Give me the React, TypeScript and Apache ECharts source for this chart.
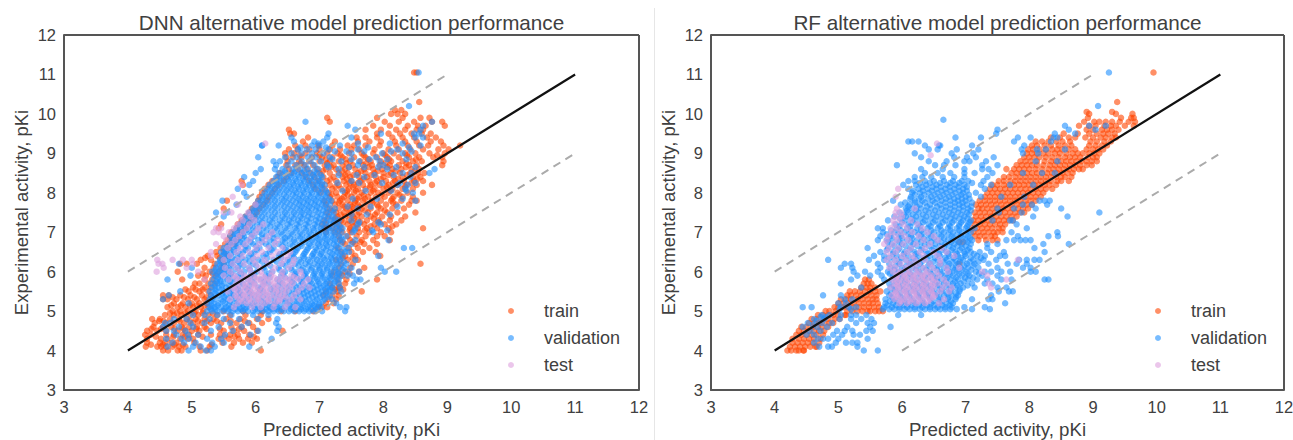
import React, { useEffect, useRef } from "react";
import * as echarts from "echarts";

// Each row: [experimental pKi, predicted pKi, predicted pKi, ...]
const DNN_TRAIN_ROWS: number[][] = [
  [4.0,4.55,4.63,4.78,4.84,5.14,5.24,6.08],
  [4.1,4.28,4.46,4.52,4.6,4.7,4.8,4.9,5.12,5.28,5.62],
  [4.2,4.3,4.5,4.58,4.68,4.76,5.04,5.48,5.66,5.8,5.94],
  [4.3,4.3,4.52,4.62,4.82,4.94,5.02,5.42,5.58,5.74,5.88,6.02],
  [4.4,4.27,4.36,4.6,4.72,4.86,4.96,5.1,5.3,5.44,5.6,5.72,5.9],
  [4.5,4.3,4.46,4.6,4.78,4.9,5,5.12,5.5,5.66,5.82,6.02,6.42],
  [4.6,4.4,4.55,4.68,4.84,4.96,5.08,5.2,5.62,5.78,5.96],
  [4.7,4.42,4.6,4.72,4.88,5.02,5.16,5.3,5.46,5.7,5.9,6.1],
  [4.8,4.38,4.5,4.66,4.8,4.92,5.06,5.2,5.34,5.54,5.76,6.02,6.2],
  [4.9,4.58,4.72,4.84,4.98,5.1,5.26,5.4,5.6,5.84,6.08],
  [5.0,4.7,4.82,4.94,5.06,5.18,5.5,5.8,6.1,6.4,6.62,6.9],
  [5.1,4.62,4.78,4.9,5.02,5.14,5.26,6.98,7.04,7.12],
  [5.2,4.72,4.86,5,5.12,5.24,7.1,7.22],
  [5.3,4.55,4.62,4.76,4.94,5.08,5.2,7.14,7.26],
  [5.4,4.55,4.64,4.82,4.98,5.16,5.3,7.06,7.2,7.3],
  [5.5,4.95,5.12,5.26,7.1,7.28,7.66],
  [5.6,5.02,5.2,5.3,7.2,7.32,7.3],
  [5.7,5.05,5.12,5.26,5.36,7.16,7.3,7.4],
  [5.8,4.85,5.2,5.32,7.28,7.42,7.9],
  [5.9,5.1,5.22,5.38,7.2,7.36],
  [6.0,4.78,5.28,5.42,7.22,7.4,7.62],
  [6.1,5.2,5.34,5.46,7.3,7.48,7.7],
  [6.2,4.82,4.92,5.08,5.36,5.5,7.34,7.52,8.58],
  [6.3,5.14,5.3,5.48,7.26,7.44,7.6],
  [6.4,5.25,5.4,5.56,7.4,7.56,7.95],
  [6.5,5.38,5.5,7.34,7.5,7.68,7.88],
  [6.6,5.45,5.58,7.28,7.46,7.6,7.78],
  [6.7,5.52,5.66,7.4,7.56,7.7,7.9],
  [6.8,5.56,5.7,7.32,7.48,7.66,7.84,8.1],
  [6.9,5.6,5.76,7.3,7.44,7.58,7.72,7.9,8.02],
  [7.0,5.62,5.78,7.1,7.24,7.36,7.5,7.62,7.78,7.96,8.12],
  [7.1,5.42,5.7,5.84,7.08,7.1,7.2,7.34,7.48,7.6,7.74,7.9,8.08,8.62],
  [7.2,5.46,5.72,5.88,7.04,7.1,7.3,7.44,7.58,7.7,7.86,8.02,8.2],
  [7.3,5.78,5.92,7.08,7.22,7.34,7.46,7.6,7.74,7.92,8.1,8.28],
  [7.4,5.84,5.98,7.14,7.28,7.4,7.52,7.66,7.8,7.98,8.12,8.34],
  [7.5,5.9,6.02,7.12,7.26,7.38,7.5,7.62,7.76,7.9,8.06,8.22,8.5],
  [7.6,5.5,5.94,6.06,7.16,7.3,7.42,7.54,7.66,7.8,7.96,8.14,8.32],
  [7.7,6.0,6.12,7.1,7.24,7.36,7.48,7.6,7.74,7.9,8.04,8.2,8.4],
  [7.8,5.55,6.04,6.18,7.08,7.2,7.32,7.44,7.56,7.68,7.82,7.96,8.12,8.28,8.44,8.52],
  [7.9,6.06,6.2,7.16,7.28,7.38,7.5,7.62,7.76,7.88,8.02,8.16,8.3,8.46],
  [8.0,6.1,6.26,7.02,7.14,7.26,7.4,7.54,7.66,7.8,7.92,8.08,8.22,8.38,8.62],
  [8.1,6.14,6.3,6.94,7.08,7.2,7.34,7.46,7.6,7.72,7.86,8,8.14,8.3,8.46],
  [8.2,5.8,6.2,6.36,6.9,7.04,7.16,7.3,7.42,7.54,7.68,7.8,7.94,8.08,8.22,8.36,8.52,8.76],
  [8.3,5.78,6.26,6.44,6.84,6.98,7.12,7.26,7.38,7.5,7.64,7.78,7.9,8.04,8.18,8.32,8.48,8.62],
  [8.4,6.34,6.48,6.78,6.92,7.06,7.22,7.36,7.48,7.62,7.74,7.88,8,8.16,8.3,8.46,8.58],
  [8.5,6.38,6.56,6.72,6.86,7,7.16,7.3,7.44,7.6,7.72,7.86,8,8.12,8.26,8.42,8.54,8.64],
  [8.6,6.52,6.66,6.8,6.96,7.1,7.26,7.4,7.56,7.7,7.84,7.98,8.14,8.28,8.44,8.56],
  [8.7,6.48,6.62,6.76,6.9,7.08,7.22,7.36,7.52,7.68,7.82,7.94,8.1,8.24,8.4,8.52,8.92],
  [8.8,6.5,6.68,6.84,7,7.16,7.3,7.48,7.64,7.8,7.96,8.12,8.3,8.46,8.6,8.94],
  [8.9,6.48,6.58,6.72,6.88,7.04,7.2,7.36,7.54,7.72,7.9,8.06,8.24,8.4,8.56,8.78,8.92],
  [9.0,6.46,6.6,6.78,6.96,7.12,7.28,7.46,7.66,7.84,8,8.16,8.34,8.5,8.72,8.96],
  [9.1,6.52,6.66,6.84,7,7.16,7.32,7.5,7.62,7.86,8.08,8.24,8.42,8.62,8.86,9.02],
  [9.2,6.62,6.78,6.98,7.2,7.44,7.54,7.72,7.94,8.2,8.38,8.56,8.7,8.94,9.2],
  [9.3,6.74,7.24,7.6,7.78,7.96,8.18,8.34,8.52,8.74,8.9],
  [9.4,6.82,7.58,7.72,7.9,8.14,8.3,8.48,8.68,8.82],
  [9.5,6.54,6.6,7.9,8.08,8.26,8.44,8.6,8.74],
  [9.6,6.52,7.72,7.96,8.2,8.34,8.52,8.62],
  [9.7,7.84,8.1,8.38,8.54,8.66,8.96],
  [9.8,7.16,8.02,8.24,8.48,8.76,8.92],
  [9.9,7.12,7.9,8.3,8.58,8.72],
  [10.0,8.12,8.22,8.34],
  [10.1,8.18,8.28],
  [10.3,8.56],
  [11.05,8.48,8.52],
  // second, staggered pass over the dense parts
  [4.15,4.36,4.55,4.73,4.86,5.31],
  [4.35,4.44,4.71,4.89,5.17,5.51,5.67,5.97],
  [4.55,4.37,4.52,4.73,4.87,5.07,5.23,5.44,5.74],
  [4.75,4.49,4.56,4.81,4.97,5.1,5.24,5.39,5.61,5.83],
  [4.95,4.66,4.77,4.9,5.04,5.17,5.33],
  [5.15,4.68,4.83,4.97,5.08,5.2],
  [5.35,4.7,4.88,5.04,5.23],
  [5.55,4.9,5.06,5.17,7.24,7.37],
  [5.95,5.17,5.33,7.31,7.47],
  [6.35,5.21,5.44,7.36,7.52],
  [6.75,5.6,7.36,7.52,7.64],
  [7.05,7.31,7.47,7.71],
  [7.15,7.27,7.53,7.8,8.14],
  [7.25,7.37,7.51,7.64,7.94],
  [7.35,7.25,7.54,7.85],
  [7.45,7.33,7.46,7.59,7.87],
  [7.55,7.21,7.47,7.71,8.02],
  [7.65,7.39,7.51,7.63,7.92],
  [7.75,7.3,7.55,7.83,8.15],
  [7.85,7.35,7.59,7.71,8.14],
  [7.95,7.19,7.44,7.69,7.97,8.25],
  [8.05,7.43,7.57,7.84,8.11],
  [8.15,7.25,7.52,7.79,8.05,8.34],
  [8.25,7.47,7.6,7.87,8.15,8.44],
  [8.35,7.17,7.43,7.69,7.96,8.23,8.53],
  [8.45,7.4,7.53,7.81,8.08,8.37],
  [8.55,7.05,7.35,7.65,7.91,8.19,8.49],
  [8.65,7.18,7.46,7.77,8.06,8.35],
  [8.75,6.71,7.12,7.42,7.73,8.03,8.36],
  [8.85,7.1,7.41,7.76,8.09,8.51],
  [8.95,6.69,7,7.33,7.69,8.03,8.37,8.84],
];

const DNN_VALIDATION_ROWS: number[][] = [
  [4.0,4.95,5.22,5.3],
  [4.1,4.62,5.02,5.14,5.36,5.9],
  [4.2,4.7,4.88,5.06,5.32,5.5],
  [4.3,4.6,4.84,4.96,5.24,5.46,6.25],
  [4.4,4.76,4.94,5.1,5.52,5.92],
  [4.5,4.6,4.72,4.9,5.3,5.64,6.04,6.34],
  [4.6,4.55,4.8,5.02,5.42,5.78,6.36],
  [4.7,4.58,4.66,4.98,5.2,5.6,5.88,6.32],
  [4.8,4.72,4.92,5.28,5.5,5.74,6.04,6.34],
  [4.9,5.02,5.2,5.4,5.62,5.96,6.2],
  [5.0,5.24,5.32,5.4,5.48,5.56,5.64,5.72,5.8,5.88,5.96,6.04,6.12,6.2,6.28,6.36,6.44,6.52,6.6,6.68,6.76,6.84,6.92,7.04,7.4],
  [5.1,5.28,5.36,5.46,5.54,5.62,5.74,5.86,5.98,6.1,6.22,6.34,6.46,6.58,6.7,6.82,6.94,7.02,7.32,7.42],
  [5.2,4.95,5.24,5.34,5.42,5.52,5.66,5.78,5.94,6.14,6.3,6.5,6.64,6.76,6.88,7.0,7.26],
  [5.3,4.55,5.28,5.36,5.46,5.56,5.7,5.86,6.04,6.24,6.42,6.58,6.72,6.84,6.96,7.08,7.2],
  [5.4,4.64,5.3,5.42,5.54,5.66,5.8,5.98,6.18,6.38,6.56,6.7,6.82,6.94,7.06,7.16],
  [5.5,4.82,5.28,5.38,5.5,5.62,5.76,5.92,6.12,6.34,6.52,6.68,6.8,6.92,7.04,7.14,7.22,7.34],
  [5.6,5.32,5.42,5.54,5.68,5.84,6.04,6.28,6.48,6.64,6.78,6.9,7.02,7.12,7.2,7.32],
  [5.7,5.3,5.4,5.5,5.64,5.8,5.98,6.2,6.42,6.6,6.74,6.88,7,7.1,7.22,7.3,7.54],
  [5.8,4.62,5.34,5.44,5.56,5.7,5.88,6.08,6.34,6.54,6.7,6.84,6.96,7.08,7.18,7.3,7.58,7.64],
  [5.9,4.98,5.36,5.46,5.58,5.72,5.92,6.16,6.4,6.6,6.76,6.9,7.02,7.14,7.24,7.34,7.44,7.52],
  [6.0,5.32,5.42,5.52,5.64,5.82,6.02,6.26,6.46,6.64,6.8,6.94,7.06,7.18,7.3,7.44,7.62,8.02,8.2],
  [6.1,5,5.38,5.48,5.58,5.72,5.9,6.12,6.36,6.56,6.74,6.88,7,7.12,7.24,7.38,7.5,7.96],
  [6.2,4.8,5.4,5.5,5.62,5.76,5.96,6.18,6.42,6.62,6.78,6.92,7.04,7.16,7.28,7.42],
  [6.3,5.44,5.56,5.68,5.84,6.04,6.28,6.5,6.68,6.82,6.96,7.08,7.2,7.32,7.56],
  [6.4,5.48,5.58,5.72,5.9,6.12,6.36,6.56,6.74,6.88,7,7.12,7.24,7.36,7.92],
  [6.5,5.46,5.54,5.66,5.8,5.98,6.22,6.44,6.62,6.78,6.92,7.04,7.16,7.28,7.4,7.46],
  [6.6,5.5,5.6,5.72,5.88,6.06,6.28,6.48,6.66,6.82,6.94,7.06,7.18,7.3,7.44,8.32,8.45],
  [6.7,5.58,5.68,5.8,5.96,6.16,6.36,6.54,6.7,6.84,6.98,7.1,7.22,7.34,7.5],
  [6.8,5.62,5.72,5.86,6.04,6.22,6.42,6.6,6.74,6.88,7,7.12,7.24,7.36,7.56,8.08],
  [6.9,5.6,5.7,5.82,5.98,6.16,6.34,6.5,6.66,6.8,6.94,7.06,7.18,7.3,7.42],
  [7.0,5.64,5.76,5.9,6.06,6.24,6.4,6.56,6.7,6.84,6.98,7.1,7.22,7.34,7.52,7.84],
  [7.1,5.7,5.82,5.96,6.12,6.3,6.46,6.62,6.76,6.9,7.02,7.14,7.26,7.36,7.56],
  [7.2,5.76,5.88,6.02,6.18,6.34,6.5,6.64,6.78,6.92,7.04,7.16,7.28,7.6,7.96],
  [7.3,5.8,5.92,6.06,6.22,6.38,6.52,6.66,6.8,6.94,7.06,7.18,7.3,7.5],
  [7.4,5.5,5.84,5.96,6.1,6.26,6.42,6.56,6.7,6.82,6.96,7.08,7.2],
  [7.5,5.38,5.56,5.9,6,6.14,6.3,6.46,6.6,6.72,6.84,6.98,7.1,7.22],
  [7.6,5.96,6.06,6.2,6.34,6.5,6.64,6.76,6.88,7,7.12,7.24,7.6],
  [7.7,5.7,6,6.12,6.26,6.4,6.54,6.68,6.8,6.92,7.04,7.16],
  [7.8,5.48,6.04,6.16,6.3,6.44,6.58,6.7,6.82,6.94,7.06,7.18,8.5],
  [7.9,5.86,6.1,6.22,6.34,6.48,6.62,6.74,6.86,6.98,7.1],
  [8.0,5.82,6.14,6.26,6.38,6.52,6.64,6.76,6.88,7,7.12,8.46],
  [8.1,5.72,6.18,6.3,6.44,6.56,6.68,6.8,6.92,7.04,8.34],
  [8.2,5.9,6.22,6.34,6.48,6.6,6.72,6.84,6.96,7.08,8.22,8.38],
  [8.3,5.96,6.28,6.4,6.52,6.64,6.76,6.88,7,7.5],
  [8.4,5.82,6.32,6.44,6.56,6.68,6.8,6.92,7.04,7.7,8.42],
  [8.5,6,6.36,6.48,6.6,6.72,6.84,6.96,8.3,8.44,8.72],
  [8.6,6.08,6.3,6.42,6.58,6.7,6.82,6.98,7.3,8.06,8.8],
  [8.7,6.32,6.5,6.64,6.78,6.92,7.12,7.6,8],
  [8.8,6.28,6.38,6.56,6.72,6.86,7.02,7.34,7.62,7.94],
  [8.9,6.04,6.46,6.64,6.82,6.94,7.16,7.88],
  [9.0,6.56,6.72,6.88,7.06,7.5,7.98,8.3],
  [9.1,6.66,6.8,6.94,7.14,7.6,8.22],
  [9.2,6.1,6.1,6.36,6.88,7,7.32,8.58],
  [9.3,6.6,6.92,7.06],
  [9.4,6.56,7.12,7.5,8.5,8.62],
  [9.5,7.14,7.96,8.48,8.56],
  [9.6,7.56,8.58],
  [9.7,7.44,8.62],
  [9.8,6.78,8.76],
  [10.2,8.4],
  [11.05,8.55],
  // second, staggered pass over the dense core
  [5.05,5.3,5.37,5.51,5.59,5.68,5.77,5.83,5.99,6.07,6.16,6.25,6.33,6.41,6.55,6.63,6.71,6.79,6.87,6.95],
  [5.15,5.31,5.41,5.58,5.7,5.81,5.9,6.03,6.18,6.27,6.39,6.53,6.61,6.73,6.85,6.91,6.99],
  [5.25,5.3,5.49,5.6,5.73,5.83,5.99,6.09,6.19,6.35,6.46,6.54,6.67,6.79,6.93,7.05],
  [5.35,5.33,5.51,5.63,5.75,5.92,6.11,6.31,6.48,6.63,6.77,6.89,7.01,7.12],
  [5.45,5.36,5.48,5.6,5.73,5.89,6.05,6.27,6.46,6.62,6.75,6.87,6.99,7.1],
  [5.55,5.37,5.47,5.59,5.72,5.87,6.07,6.23,6.41,6.59,6.73,6.85,6.97,7.09,7.17],
  [5.65,5.36,5.47,5.59,5.74,5.9,6.11,6.35,6.53,6.69,6.83,6.95,7.06,7.16],
  [5.75,5.39,5.45,5.6,5.76,5.93,6.14,6.38,6.57,6.72,6.86,6.98,7.12,7.24],
  [5.85,5.41,5.52,5.64,5.79,5.98,6.22,6.46,6.65,6.79,6.93,7.05,7.16,7.27],
  [5.95,5.4,5.5,5.61,5.77,5.97,6.21,6.43,6.62,6.78,6.92,7.04,7.18,7.29],
  [6.05,5.37,5.47,5.57,5.73,5.91,6.14,6.37,6.56,6.72,6.87,7,7.12,7.25,7.36],
  [6.15,5.44,5.53,5.65,5.81,6.01,6.23,6.47,6.67,6.83,6.97,7.08,7.2,7.33],
  [6.25,5.45,5.6,5.73,5.9,6.1,6.33,6.53,6.71,6.85,7,7.14,7.26,7.38],
  [6.35,5.52,5.63,5.78,5.96,6.18,6.4,6.6,6.76,6.91,7.06,7.18,7.3],
  [6.45,5.51,5.61,5.75,5.93,6.16,6.38,6.59,6.76,6.9,7.02,7.2,7.32],
  [6.55,5.53,5.66,5.84,6.02,6.25,6.47,6.64,6.8,6.96,7.1,7.24,7.37],
  [6.65,5.56,5.69,5.84,6.01,6.21,6.42,6.58,6.72,6.86,7,7.12,7.26],
  [6.75,5.63,5.76,5.92,6.1,6.29,6.46,6.62,6.78,6.92,7.04,7.16,7.28],
  [6.85,5.67,5.79,5.93,6.1,6.28,6.46,6.54,6.7,6.84,6.97,7.09,7.21,7.34],
  [6.95,5.68,5.8,5.94,6.1,6.26,6.42,6.58,6.73,6.87,6.99,7.11,7.25],
  [7.05,5.72,5.85,6,6.17,6.33,6.48,6.64,6.79,6.91,7.04,7.17,7.29,7.55,7.82,8.06],
  [7.15,5.78,5.91,6.07,6.23,6.38,6.54,6.68,6.82,6.96,7.08,7.2,7.32],
  [7.25,5.82,5.96,6.1,6.26,6.42,6.56,6.7,6.84,6.98,7.1,7.23,7.62,7.92],
  [7.35,5.86,6,6.15,6.3,6.46,6.6,6.73,6.87,7,7.13,7.24],
  [7.45,5.92,6.05,6.2,6.35,6.49,6.63,6.76,6.89,7.03,7.15,7.5,7.74,8.1],
  [7.55,5.98,6.11,6.25,6.41,6.55,6.69,6.81,6.94,7.06,7.18],
  [7.65,6.03,6.16,6.3,6.45,6.59,6.72,6.84,6.96,7.08,7.44,7.8,8.22],
  [7.75,6.07,6.2,6.35,6.49,6.63,6.75,6.87,6.99,7.11],
  [7.85,6.12,6.26,6.41,6.53,6.67,6.79,6.91,7.03,7.15,7.52,7.9,8.3],
  [7.95,6.17,6.3,6.44,6.58,6.7,6.83,6.95,7.07],
  [8.05,6.22,6.35,6.48,6.61,6.74,6.86,6.98,7.1,7.36,7.72,8.12,8.36],
  [8.15,6.26,6.39,6.53,6.66,6.78,6.9,7.02],
  [8.25,6.32,6.44,6.58,6.7,6.82,6.94,7.04,7.28,7.62,7.98,8.26,8.5],
  [8.35,6.36,6.5,6.62,6.74,6.86,6.98],
  [8.45,6.42,6.54,6.66,6.78,6.9,7.02,7.3,7.58,7.86,8.16],
  [8.55,6.46,6.62,6.76,6.92],
  [8.65,7.14,7.46,7.7,7.92,8.2,8.5],
  [8.85,7.2,7.5,7.78,8.06,8.36],
  [9.05,7.24,7.42,7.7,8.12,8.44],
  [9.15,6.7,7.1,7.76,8.4],
  [9.25,6.98,7.6,8.1,8.3],
];

const DNN_TEST_ROWS: number[][] = [
  [5.1,5.66,5.94,6.08,6.28,6.46,6.62],
  [5.2,5.72,5.86,6,6.14,6.3,6.5],
  [5.3,5.6,5.76,5.9,6.04,6.2,6.38,6.56,6.7],
  [5.4,5.68,5.82,5.96,6.1,6.24,6.42,6.6],
  [5.5,5.56,5.72,5.88,6.02,6.16,6.32,6.48,6.66],
  [5.6,5.64,5.78,5.92,6.06,6.2,6.36,6.54,6.72,6.84],
  [5.7,5.7,5.84,5.98,6.12,6.28,6.44,6.58,6.76],
  [5.8,5.58,5.74,5.9,6.04,6.18,6.34,6.5,6.66,6.82,5.2],
  [5.9,5.5,5.66,5.82,5.96,6.1,6.24,6.4,6.56,6.72],
  [6.0,4.45,5.1,5.6,5.76,5.92,6.08,6.26,6.42,6.7],
  [6.1,4.56,4.92,5.52,5.7,5.9,6.06,6.3,6.52],
  [6.2,4.48,4.54,5.02,5.64,5.82,6,6.2,6.4,6.58],
  [6.3,4.46,4.7,4.86,5,5.5,5.72,5.96,6.14,6.44,6.6],
  [6.4,5.3,5.6,5.8,6.02,6.26,6.5],
  [6.5,5.3,5.7,5.9,6.1,6.34,6.54],
  [6.6,5.56,5.76,6,6.2,6.42],
  [6.7,5.38,5.62,5.84,6.06,6.3],
  [6.8,5.54,5.68,5.9,6.14,6.34],
  [6.9,5.5,5.74,5.94,6.2],
  [7.0,5.34,5.42,5.58,5.8,6,6.26],
  [7.1,5.38,5.46,5.66,5.86,6.04],
  [7.2,5.72,5.9,6.12],
  [7.3,5.8,5.98],
  [7.4,5.76,5.92],
  [7.5,5.5,5.62,5.88],
  [7.7,5.72,6],
  [7.9,5.64],
  [8.2,5.78],
  [9.25,6.15],
  // second pass: the pale patch under the line
  [5.25,5.79,5.93,6.07,6.21,6.37],
  [5.35,5.71,5.85,6.01,6.15,6.31,6.47],
  [5.45,5.79,5.93,6.05,6.19,6.36],
  [5.55,5.67,5.83,5.97,6.11,6.27,6.43],
  [5.65,5.71,5.85,5.99,6.15,6.31,6.47],
  [5.75,5.77,5.93,6.08,6.23,6.39,6.53],
  [5.85,5.69,5.86,6.01,6.14,6.29,6.45,6.61],
];

const RF_TRAIN_ROWS: number[][] = [
  [4.0,4.2,4.26,4.34,4.38,4.46,4.45],
  [4.1,4.24,4.32,4.4,4.48,4.56,4.64,4.66],
  [4.2,4.28,4.36,4.44,4.52,4.6,4.7],
  [4.3,4.28,4.38,4.46,4.54,4.62,4.72],
  [4.4,4.34,4.42,4.5,4.58,4.66,4.76],
  [4.5,4.38,4.46,4.54,4.62,4.7,4.78],
  [4.6,4.42,4.5,4.6,4.68,4.74,4.84],
  [4.7,4.54,4.62,4.7,4.78,4.86,4.92],
  [4.8,4.58,4.66,4.76,4.84,4.94,5.02],
  [4.9,4.68,4.76,4.84,4.92,5,5.1,5.12],
  [5.0,4.8,4.86,4.96,5.14,5.22,5.3,5.38,5.46,5.5,5.58,5.64,5.7],
  [5.1,4.94,5,5.08,5.16,5.24,5.32,5.4,5.48,5.56,5.64],
  [5.2,5,5.08,5.16,5.24,5.32,5.4,5.48,5.54,5.62],
  [5.3,5.04,5.12,5.2,5.3,5.38,5.46,5.54,5.6],
  [5.4,5.14,5.2,5.28,5.36,5.44,5.52,5.6],
  [5.5,5.18,5.26,5.34,5.42,5.5,5.58,5.66],
  [5.6,5.36,5.44,5.5,5.58],
  [5.7,5.4,5.46,5.52],
  [5.8,5.42,5.48],
  [6.2,6.9],
  [6.75,6.9,6.96],
  [6.8,7.2,7.32,7.42,7.5],
  [6.9,7.14,7.22,7.3,7.4,7.46],
  [7.0,7.12,7.2,7.28,7.36,7.44,7.5,7.58],
  [7.1,7.1,7.18,7.26,7.34,7.42,7.52,7.58],
  [7.2,7.14,7.22,7.3,7.38,7.46,7.54,7.62],
  [7.3,7.12,7.2,7.28,7.36,7.44,7.52,7.6,7.68,7.74],
  [7.4,7.16,7.24,7.32,7.4,7.48,7.56,7.64,7.72,7.8],
  [7.5,7.14,7.22,7.3,7.38,7.46,7.54,7.62,7.7,7.78,7.86,7.92],
  [7.6,7.2,7.26,7.34,7.42,7.5,7.58,7.66,7.74,7.82,7.9,7.98],
  [7.7,7.16,7.24,7.32,7.4,7.48,7.56,7.64,7.72,7.8,7.88,7.96,8.04],
  [7.8,7.22,7.3,7.38,7.46,7.54,7.62,7.7,7.78,7.86,7.94,8.02,8.1],
  [7.9,7.3,7.38,7.46,7.54,7.62,7.7,7.78,7.86,7.94,8.02,8.1,8.18],
  [8.0,7.34,7.42,7.5,7.58,7.66,7.74,7.82,7.9,7.98,8.06,8.14,8.22],
  [8.1,7.38,7.46,7.54,7.62,7.7,7.78,7.86,7.94,8.02,8.1,8.18,8.26,8.36],
  [8.2,7.42,7.5,7.6,7.68,7.76,7.84,7.92,8,8.08,8.16,8.24,8.32,8.42],
  [8.3,7.52,7.6,7.7,7.78,7.86,7.94,8.02,8.1,8.18,8.26,8.34,8.44,8.5,8.62],
  [8.4,7.6,7.68,7.78,7.86,7.94,8.02,8.1,8.18,8.26,8.34,8.42,8.5,8.56,8.66],
  [8.5,7.72,7.8,7.88,7.96,8.04,8.12,8.2,8.28,8.36,8.44,8.52,8.6,8.68],
  [8.6,7.64,7.76,7.84,7.92,8,8.1,8.2,8.3,8.38,8.46,8.54,8.62,8.7,8.78,8.84],
  [8.7,7.8,7.88,7.96,8.04,8.12,8.22,8.32,8.4,8.48,8.56,8.64,8.72,8.8,8.9,8.98],
  [8.8,7.86,7.94,8.02,8.12,8.24,8.34,8.42,8.5,8.58,8.66,8.74,8.82,8.9,8.98,9.06],
  [8.9,7.92,8,8.08,8.16,8.26,8.36,8.46,8.56,8.64,8.72,8.8,8.92,9,9.06],
  [9.0,7.96,8.04,8.12,8.22,8.3,8.4,8.48,8.58,8.68,8.76,8.84,8.94,9.02,9.1],
  [9.1,7.98,8.06,8.16,8.26,8.36,8.44,8.52,8.62,8.72,8.9,9,9.08,9.16],
  [9.2,8.04,8.12,8.24,8.34,8.46,8.56,8.66,8.94,9.04,9.14,9.22],
  [9.3,8.1,8.2,8.3,8.42,8.52,8.64,8.96,9.06,9.18,9.28],
  [9.4,8.34,8.48,8.62,8.72,8.88,9,9.12,9.2,9.3,9.36],
  [9.5,8.54,8.76,8.94,9.06,9.16,9.24,9.34],
  [9.6,8.9,9,9.14,9.22,9.3,9.4],
  [9.7,8.78,8.94,9.04,9.18,9.28,9.36,9.5,9.64],
  [9.8,8.86,9.02,9.1,9.2,9.3,9.42,9.56,9.66],
  [9.9,8.92,9.44,9.6,9.64],
  [10.0,8.94,9.36,9.62],
  [10.05,8.9,9.3],
  [10.3,9.38],
  [11.05,9.95],
];

const RF_VALIDATION_ROWS: number[][] = [
  [4.0,5.4,5.62],
  [4.1,4.7,4.84,4.9,5.3],
  [4.2,4.62,4.96,5.12,5.22,5.3],
  [4.3,4.68,4.76,4.84,5,5.46],
  [4.4,4.5,4.62,4.92,5.06,5.24,5.34],
  [4.5,4.56,4.72,4.98,5.1,5.22,5.44,5.54],
  [4.6,4.44,4.66,4.82,5.14,5.5,5.82],
  [4.7,4.52,4.74,4.9,5.28,5.46,5.56],
  [4.8,4.62,4.78,5.02,5.2,5.36,5.52],
  [4.9,4.74,4.86,5.04,5.2,5.28,5.44,5.94,6.3],
  [5.05,5.7,5.8,5.88,5.96,6.04,6.12,6.2,6.28,6.36,6.44,6.52,6.6,6.68,6.76,5.02,5.2,6.86,7.1,7.38],
  [5.1,4.44,4.58,5.04,5.16,5.28,5.72,5.84,5.96,6.08,6.2,6.32,6.44,6.56,6.68,6.78,6.98,7.3],
  [5.2,5,5.12,5.74,5.86,5.98,6.1,6.22,6.34,6.46,6.58,6.7,6.8,7.62],
  [5.3,5.1,5.22,5.74,5.88,6.02,6.16,6.3,6.44,6.58,6.72,6.84,7.1,7.36,7.42],
  [5.4,4.76,5.04,5.8,5.94,6.08,6.24,6.38,6.52,6.66,6.78,6.88,7.4],
  [5.5,5.76,5.9,6.06,6.2,6.34,6.48,6.62,6.76,6.9,7.52,7.68,7.74],
  [5.6,5.36,5.82,5.96,6.12,6.26,6.4,6.56,6.7,6.84,6.96,7.14,7.5,7.64],
  [5.7,5.04,5.8,5.94,6.08,6.24,6.38,6.52,6.66,6.8,6.92,7.1,7.3,7.42],
  [5.8,5.2,5.72,5.84,6,6.16,6.32,6.48,6.62,6.76,6.88,7.04,7.18,7.34,7.56,7.72,8.24,8.3],
  [5.9,5.3,5.5,5.68,5.86,6.02,6.18,6.36,6.52,6.68,6.8,6.94,7.06,7.26,7.5],
  [6.0,5.24,5.42,5.62,5.78,5.94,6.1,6.26,6.44,6.6,6.74,6.86,7,7.16,7.3,7.4,7.56,7.7,8.02,8.1],
  [6.1,5.04,5.22,5.66,5.82,6,6.16,6.32,6.5,6.66,6.8,6.92,7.04,7.2,7.5,7.9,8.02],
  [6.2,5.1,5.2,5.62,5.8,5.96,6.12,6.28,6.44,6.6,6.74,6.88,7.02,7.14,7.36,7.66,7.8,7.96],
  [6.3,4.84,5.48,5.72,5.88,6.06,6.22,6.4,6.56,6.7,6.84,6.96,7.12,7.28,7.48,7.84,7.96,8.08,8.16],
  [6.4,5.56,5.72,5.92,6.1,6.26,6.44,6.6,6.74,6.88,7,7.18,7.3,7.54,7.62],
  [6.5,5.66,5.86,6.04,6.2,6.38,6.54,6.7,6.84,6.98,7.08,7.22,7.4,7.6,8.24],
  [6.6,5.46,5.78,5.96,6.14,6.32,6.5,6.66,6.8,6.94,7.06,7.34,8.08],
  [6.7,5.84,6,6.18,6.36,6.52,6.68,6.82,6.94,7.08,7.34,7.5,8.62,8.22],
  [6.8,5.62,5.76,5.92,6.08,6.24,6.4,6.56,6.72,6.86,7,7.1,7.64,7.76,7.86,7.94,8.02],
  [6.9,5.66,5.82,5.98,6.14,6.3,6.46,6.62,6.78,6.92,7.04,7.82,8.3,8.45],
  [7.0,5.7,5.88,6.04,6.2,6.34,6.5,6.66,6.8,6.94,7.08,7.72,8.44],
  [7.1,5.62,5.7,5.92,6.08,6.24,6.4,6.56,6.72,6.86,7,7.14,7.96],
  [7.2,5.9,6.1,6.26,6.42,6.58,6.74,6.9,7.04,7.8],
  [7.3,5.78,6.04,6.2,6.36,6.52,6.68,6.82,6.96,7.08,7.74,7.42,7.7],
  [7.4,5.88,6.06,6.22,6.38,6.54,6.7,6.84,6.98,8.06,8.6],
  [7.5,5.96,6.1,6.26,6.42,6.58,6.74,6.88,7.02,7.52,7.88,9.1],
  [7.6,6.06,6.16,6.3,6.46,6.62,6.76,6.9,7.04,7.76,8.1,8.5,7.5],
  [7.7,5.98,6.12,6.28,6.44,6.6,6.76,6.9,7.02,7.9,8.04,8.28],
  [7.8,5.86,6.2,6.32,6.48,6.62,6.76,6.88,7,8.16,8.24,8.32],
  [7.9,6.14,6.3,6.46,6.6,6.74,6.88,7,7.24,7.56,7.92],
  [8.0,6.16,6.28,6.42,6.56,6.7,6.84,6.96,7.16],
  [8.1,6.1,6.26,6.4,6.54,6.68,6.82,6.96,7.3],
  [8.2,6.02,6.22,6.38,6.54,6.7,6.84,6.98,7.24,7.4,7.7,8.06],
  [8.3,6.1,6.2,6.36,6.5,6.66,6.8,6.94,7.04,7.28],
  [8.4,6.2,6.32,6.46,6.64,6.82,6.98,7.34],
  [8.5,6.36,6.56,6.76,6.98,7.14,7.42,8.4,7.9,8.2],
  [8.6,6.3,6.64,6.98,7.26,7.36],
  [8.7,5.92,6.52,6.66,6.84,7.26,7.5],
  [8.8,6.42,6.7,6.98,7.06,7.32,8.1,8.44],
  [8.9,6.3,6.82,7.02,7.16,7.44],
  [9.0,6.2,6.78,7.12,7.9,8.14],
  [9.1,6.42,6.56,6.86,7.2,7.88,8.12,8.26,8.56],
  [9.2,6.36,6.58,6.6,7.1,7.92],
  [9.3,6.1,6.16,6.26,7.76,8.34],
  [9.4,6.84,7.24,7.82,8.02,8.44,8.38],
  [9.5,7.48,8.4,8.72],
  [9.6,7.5,8.62,9.04],
  [9.7,8.56,8.94,9.2],
  [9.85,6.65],
  [10.2,9.08],
  [11.05,9.25],
  // second, staggered pass over the dense column
  [4.65,4.6],
  [4.75,4.66],
  [4.85,4.8,4.72],
  [5.15,5.77,5.91,6.03,6.15,6.27,6.39,6.51,6.63,6.75],
  [5.25,5.81,5.93,6.05,6.19,6.33,6.49,6.63,6.77],
  [5.35,5.85,5.99,6.13,6.27,6.43,6.59,6.73,6.85],
  [5.45,5.83,5.97,6.11,6.27,6.41,6.55,6.71,6.85],
  [5.55,5.89,6.03,6.19,6.33,6.47,6.63,6.77,6.91],
  [5.65,5.87,6.01,6.17,6.31,6.45,6.59,6.75,6.87,7.03],
  [5.75,5.91,6.05,6.21,6.35,6.55,6.69,6.83,6.97],
  [5.85,5.93,6.09,6.25,6.41,6.55,6.71,6.85,6.99,7.12],
  [5.95,5.81,5.97,6.13,6.29,6.46,6.62,6.76,6.9,7.03,7.21],
  [6.05,5.88,6.04,6.22,6.38,6.55,6.71,6.83,6.95,7.09],
  [6.15,5.9,6.07,6.23,6.41,6.57,6.72,6.85,6.98,7.12],
  [6.25,5.96,6.14,6.31,6.49,6.65,6.79,6.91,7.06,7.2],
  [6.35,5.8,5.99,6.18,6.35,6.52,6.68,6.81,6.93,7.08,7.24],
  [6.45,5.86,6.03,6.22,6.4,6.58,6.73,6.86,6.99,7.13],
  [6.55,5.76,5.94,6.12,6.3,6.47,6.63,6.78,6.91,7.03],
  [6.65,5.88,6.06,6.24,6.42,6.59,6.74,6.87,7],
  [6.75,5.78,5.96,6.14,6.3,6.46,6.62,6.77,6.9,7.03],
  [6.85,5.84,6,6.16,6.34,6.5,6.66,6.81,6.95,7.07],
  [6.95,5.76,5.94,6.1,6.26,6.42,6.58,6.73,6.87,7],
  [7.05,5.83,5.98,6.14,6.3,6.46,6.62,6.76,6.9,7.04],
  [7.15,5.96,6.13,6.29,6.45,6.6,6.76,6.9,7.02],
  [7.25,6,6.17,6.33,6.49,6.64,6.79,6.93,7.06],
  [7.35,5.97,6.13,6.29,6.45,6.61,6.76,6.9,7.03],
  [7.45,6.03,6.17,6.33,6.49,6.64,6.79,6.93,7.05],
  [7.55,6.08,6.22,6.37,6.52,6.68,6.82,6.96,7.08],
  [7.65,6.1,6.23,6.39,6.55,6.69,6.83,6.96,7.09],
  [7.75,6.05,6.2,6.36,6.52,6.68,6.83,6.95,7.1],
  [7.85,6.13,6.27,6.41,6.55,6.69,6.82,6.94,7.06],
  [7.95,6.2,6.35,6.51,6.65,6.79,6.93,7.05],
  [8.05,6.18,6.33,6.47,6.62,6.76,6.9,7.02],
  [8.15,6.32,6.48,6.61,6.75,6.89,7.02],
  [8.25,6.28,6.44,6.6,6.76,6.9,7.1],
];

const RF_TEST_ROWS: number[][] = [
  [5.2,5.96,6.08,6.22,6.36,6.58],
  [5.3,5.88,6.02,6.16,6.3,6.44,6.66],
  [5.4,5.84,5.96,6.1,6.24,6.38,6.52],
  [5.5,5.9,6.04,6.18,6.32,6.46,6.6,6.74],
  [5.6,5.82,5.94,6.08,6.22,6.36,6.5,6.64,6.78,7.4],
  [5.7,5.88,6,6.14,6.28,6.42,6.56,6.7,7.36],
  [5.8,5.84,5.96,6.1,6.24,6.38,6.52,6.66,7.64],
  [5.9,5.92,6.04,6.18,6.32,6.46,6.58,7.34],
  [6.0,5.86,5.98,6.12,6.26,6.4,6.54,6.72,7.26],
  [6.1,5.8,5.9,6.06,6.2,6.34,6.48,6.7,6.9],
  [6.2,5.84,5.98,6.12,6.26,6.44,6.6],
  [6.3,5.76,5.9,6.06,6.2,6.36,6.6,7.82],
  [6.4,5.82,6,6.16,6.34,6.56,6.82],
  [6.5,5.76,5.9,6.08,6.28,6.5,6.7],
  [6.6,5.8,5.94,6.14,6.36,6.62],
  [6.7,5.72,5.86,6.02,6.22,6.44],
  [6.8,5.76,5.92,6.1,6.34,6.56],
  [6.9,5.78,5.9,6.04,6.26,6.5],
  [7.0,5.84,5.98,6.16,6.4],
  [7.1,5.82,5.92,6.08,6.32],
  [7.2,5.88,6.02,6.24],
  [7.3,5.86,5.96,6.14],
  [7.4,5.9,6],
  [7.5,5.9,5.98],
  [7.6,5.92,6.2],
  [7.9,5.9],
  [8.1,5.94],
  [8.95,6.45],
  [9.25,6.55],
  // second pass: the pale patch under the line
  [5.25,5.99,6.13,6.27,6.41],
  [5.35,5.93,6.07,6.21,6.35,6.49],
  [5.45,5.9,6.05,6.19,6.33,6.47],
  [5.55,5.99,6.13,6.27,6.41],
  [5.65,5.92,6.05,6.19,6.33,6.47],
  [5.75,5.93,6.07,6.21,6.35,6.49],
  [5.85,5.9,6.03,6.17,6.31,6.45],
  [5.95,5.95,6.09,6.23,6.37],
];

const IDENTITY_LINE = [[4, 4], [11, 11]];
const UPPER_LINE = [[4, 6], [9, 11]];
const LOWER_LINE = [[6, 4], [11, 9]];
const SERIES_NAMES = ["train", "validation", "test"];
const SERIES_COLORS = ["#ff4500", "#1e90ff", "#dda0dd"];
const PANEL_TITLES = [
  "DNN alternative model prediction performance",
  "RF alternative model prediction performance",
];
const X_LABEL = "Predicted activity, pKi";
const Y_LABEL = "Experimental activity, pKi";

const toPoints = (rows: number[][]) =>
  rows.flatMap((r) => r.slice(1).map((x) => [x, r[0]]));

const PANEL_ROWS = [
  [DNN_TRAIN_ROWS, DNN_VALIDATION_ROWS, DNN_TEST_ROWS],
  [RF_TRAIN_ROWS, RF_VALIDATION_ROWS, RF_TEST_ROWS],
];

const FONT = "'Liberation Sans', Arial, sans-serif";
const INK = "#404040";
const GRIDS = [
  { left: 64, top: 35, width: 575, height: 355 },
  { left: 711, top: 35, width: 573, height: 355 },
];

export default function App() {
  const ref = useRef<HTMLDivElement>(null);
  useEffect(() => {
    document.body.style.margin = "0";
    const chart = echarts.init(ref.current!, undefined, { renderer: "svg" });
    const axis = (gridIndex: number, name: string, isY: boolean) => ({
      type: "value",
      gridIndex,
      min: 3,
      max: 12,
      interval: 1,
      name,
      nameLocation: "middle",
      nameGap: isY ? 33 : 28,
      nameTextStyle: { fontFamily: FONT, fontSize: isY ? 18.5 : 18.7, color: INK },
      axisLine: { show: true, onZero: false, lineStyle: { color: "#555", width: 2 } },
      axisTick: { show: false },
      splitLine: { show: false },
      axisLabel: { fontFamily: FONT, fontSize: 16.5, color: INK, margin: 8 },
    });
    const series: any[] = [];
    PANEL_ROWS.forEach((rows, p) => {
      rows.forEach((r, i) => {
        series.push({
          type: "scatter",
          name: SERIES_NAMES[i],
          xAxisIndex: p,
          yAxisIndex: p,
          data: toPoints(r),
          symbolSize: 6.5,
          itemStyle: { color: SERIES_COLORS[i], opacity: 0.6 },
          z: 2 + i,
        });
      });
      [UPPER_LINE, LOWER_LINE].forEach((d, j) => {
        series.push({
          type: "line",
          name: "band" + p + j,
          xAxisIndex: p,
          yAxisIndex: p,
          data: d,
          symbol: "none",
          lineStyle: { color: "#ababab", width: 2, type: [8, 6] },
          z: 6,
        });
      });
      series.push({
        type: "line",
        name: "identity" + p,
        xAxisIndex: p,
        yAxisIndex: p,
        data: IDENTITY_LINE,
        symbol: "none",
        lineStyle: { color: "#111", width: 2.2 },
        z: 7,
      });
    });
    chart.setOption({
      animation: false,
      backgroundColor: "#fff",
      title: GRIDS.map((g, i) => ({
        text: PANEL_TITLES[i],
        left: g.left + g.width / 2 - 5,
        top: 7,
        textAlign: "center",
        textStyle: { fontFamily: FONT, fontSize: 20.7, fontWeight: "normal", color: INK },
      })),
      legend: GRIDS.map((g) => ({
        data: SERIES_NAMES,
        orient: "vertical",
        left: g.left + 419 + 25,
        top: 302,
        icon: "circle",
        itemWidth: 56,
        itemHeight: 6,
        itemGap: 9,
        selectedMode: false,
        padding: 0,
        textStyle: { fontFamily: FONT, fontSize: 18, color: INK },
      })),
      grid: GRIDS.map((g) => ({ ...g, show: false, containLabel: false, outerBoundsMode: "none" })),
      xAxis: GRIDS.map((_, i) => axis(i, X_LABEL, false)),
      yAxis: GRIDS.map((_, i) => axis(i, Y_LABEL, true)),
      graphic: [
        {
          type: "line",
          shape: { x1: 654.5, y1: 8, x2: 654.5, y2: 440 },
          style: { stroke: "#e6e6e6", lineWidth: 1 },
        },
        ...GRIDS.flatMap((g) => [
          {
            type: "line",
            shape: { x1: g.left, y1: g.top, x2: g.left + g.width, y2: g.top },
            style: { stroke: "#555", lineWidth: 2 },
          },
          {
            type: "line",
            shape: { x1: g.left + g.width, y1: g.top, x2: g.left + g.width, y2: g.top + g.height },
            style: { stroke: "#555", lineWidth: 2 },
          },
        ]),
      ],
      series,
    });
    return () => chart.dispose();
  }, []);
  return <div ref={ref} style={{ width: 1293, height: 440 }} />;
}
